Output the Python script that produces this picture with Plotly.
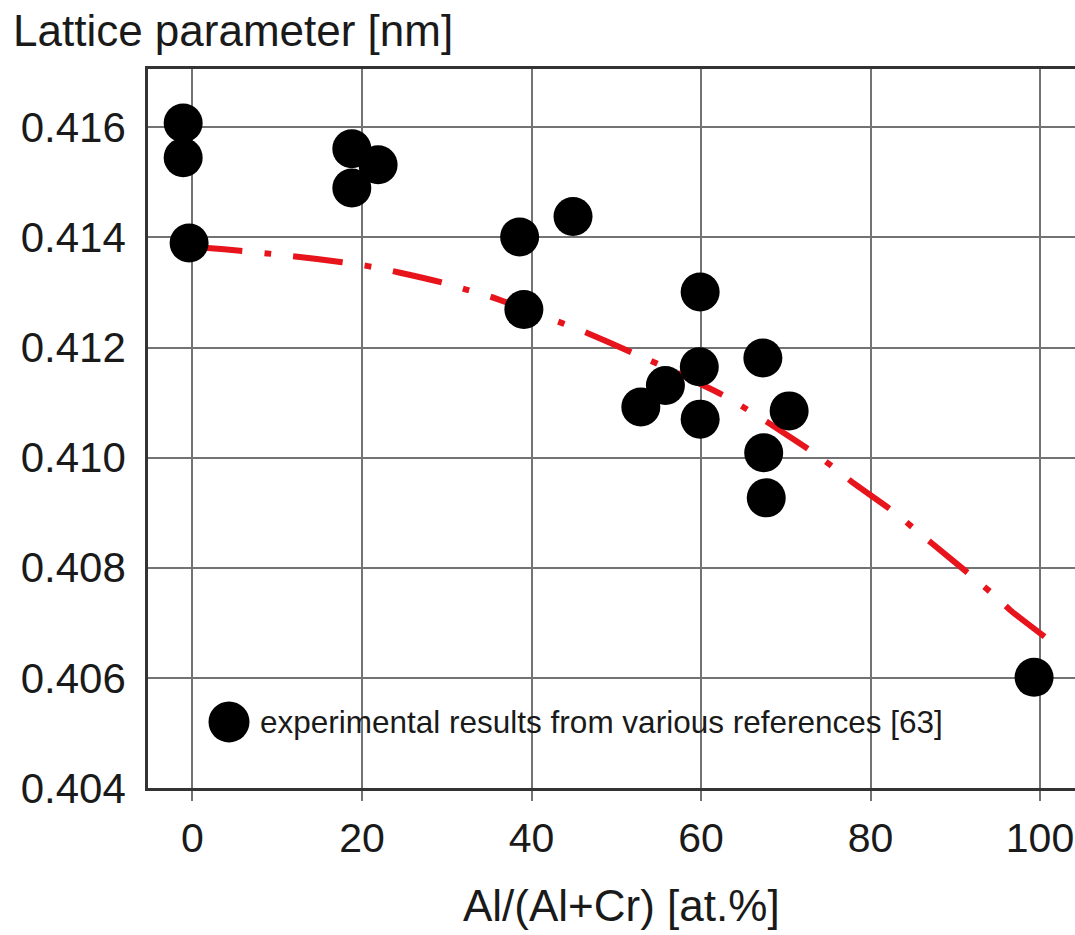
import plotly.graph_objects as go

# Experimental data points (Al/(Al+Cr) at.%, lattice parameter nm)
exp_x = [-1.1, -1.1, -0.4, 18.8, 21.9, 18.8, 38.6, 39.1, 44.9, 59.9,
         59.8, 59.9, 52.9, 55.8, 67.3, 70.4, 67.4, 67.7, 99.3]
exp_y = [0.41608, 0.41545, 0.41390, 0.41561, 0.41532, 0.41490, 0.41401,
         0.41269, 0.41438, 0.41301, 0.41165, 0.41070, 0.41092, 0.41131,
         0.41181, 0.41085, 0.41009, 0.40927, 0.40601]

# Red dash-dot trend curve
fit_x = [0.0, 1.8, 5.6, 8.8, 14.7, 20.7, 24.5, 29.5, 32.4, 35.1, 43.7, 46.5,
         52.0, 54.8, 62.8, 65.4, 67.9, 73.1, 75.5, 77.8, 82.9, 85.0, 87.2,
         92.1, 94.3, 96.5, 101.4]
fit_y = [0.41383, 0.41381, 0.41376, 0.41371, 0.41361, 0.41348, 0.41336,
         0.41318, 0.41305, 0.41293, 0.41244, 0.41227, 0.41190, 0.41171,
         0.41112, 0.41088, 0.41064, 0.41011, 0.40984, 0.40956, 0.40900,
         0.40873, 0.40845, 0.40783, 0.40754, 0.40723, 0.40665]

x_ticks = [0, 20, 40, 60, 80, 100]
y_ticks = [0.404, 0.406, 0.408, 0.410, 0.412, 0.414, 0.416]
y_tick_text = ["0.404", "0.406", "0.408", "0.410", "0.412", "0.414", "0.416"]

legend_text = "experimental results from various references [63]"
y_title = "Lattice parameter [nm]"
x_title = "Al/(Al+Cr) [at.%]"

FONT = "Liberation Sans, Arial, Helvetica, sans-serif"
GRID = "#737373"
RED = "#e8141c"

fig = go.Figure()
fig.add_trace(go.Scatter(
    x=fit_x, y=fit_y, mode="lines",
    line=dict(color=RED, width=6, dash="50px,22px,7px,22px", shape="spline", smoothing=0.6),
    showlegend=False, hoverinfo="skip"))
fig.add_trace(go.Scatter(
    x=exp_x, y=exp_y, mode="markers",
    marker=dict(color="black", size=39, line=dict(width=0)),
    name=legend_text, showlegend=False))

# legend box (white background covering the grid) with a large marker key
fig.add_shape(type="rect", xref="paper", yref="paper",
              x0=0.056, x1=0.876, y0=0.0557, y1=0.1337,
              fillcolor="white", line=dict(width=0), layer="between")
fig.add_shape(type="circle", xref="paper", yref="paper",
              xsizemode="pixel", ysizemode="pixel",
              xanchor=(229 - 148) / 927, yanchor=(788 - 722) / 718,
              x0=-20.5, x1=20.5, y0=-20.5, y1=20.5,
              fillcolor="black", line=dict(width=0), layer="above")
fig.add_annotation(text=legend_text, xref="paper", yref="paper",
                   x=(258 - 148) / 927, y=(788 - 722) / 718,
                   xanchor="left", yanchor="middle", showarrow=False,
                   font=dict(family=FONT, size=31.5, color="#1a1a1a"))

# x axis title
fig.add_annotation(text=x_title, xref="paper", yref="paper",
                   x=(621 - 148) / 927, y=-(905 - 788) / 718,
                   xanchor="center", yanchor="middle", showarrow=False,
                   font=dict(family=FONT, size=44, color="#1a1a1a"))

fig.update_layout(
    width=1075, height=935,
    margin=dict(l=148, r=0, t=69, b=147),
    paper_bgcolor="white", plot_bgcolor="white",
    font=dict(family=FONT, color="#1a1a1a"),
    title=dict(text=y_title, x=13 / 1075, xanchor="left", xref="container",
               y=1 - 31 / 935, yanchor="middle", yref="container",
               font=dict(family=FONT, size=44, color="#1a1a1a")),
    showlegend=False,
)
fig.update_xaxes(
    range=[-5.25, 104.13], tickvals=x_ticks, ticktext=[str(v) for v in x_ticks],
    showgrid=True, gridcolor=GRID, gridwidth=1.7,
    showline=True, linecolor="#333333", linewidth=2.5, mirror=True,
    ticks="outside", ticklen=10, tickcolor=GRID, tickwidth=1.7,
    ticklabelstandoff=2,
    tickfont=dict(family=FONT, size=41, color="#1a1a1a"), zeroline=False)
fig.update_yaxes(
    range=[0.404, 0.41706], tickvals=y_ticks, ticktext=y_tick_text,
    showgrid=True, gridcolor=GRID, gridwidth=1.7,
    showline=True, linecolor="#333333", linewidth=2.5, mirror=False,
    ticks="", ticklabelstandoff=11,
    tickfont=dict(family=FONT, size=42, color="#1a1a1a"), zeroline=False)

fig.write_html("out.html",
               config={"displayModeBar": False},
               post_script="document.body.style.margin='0';document.body.style.padding='0';")
